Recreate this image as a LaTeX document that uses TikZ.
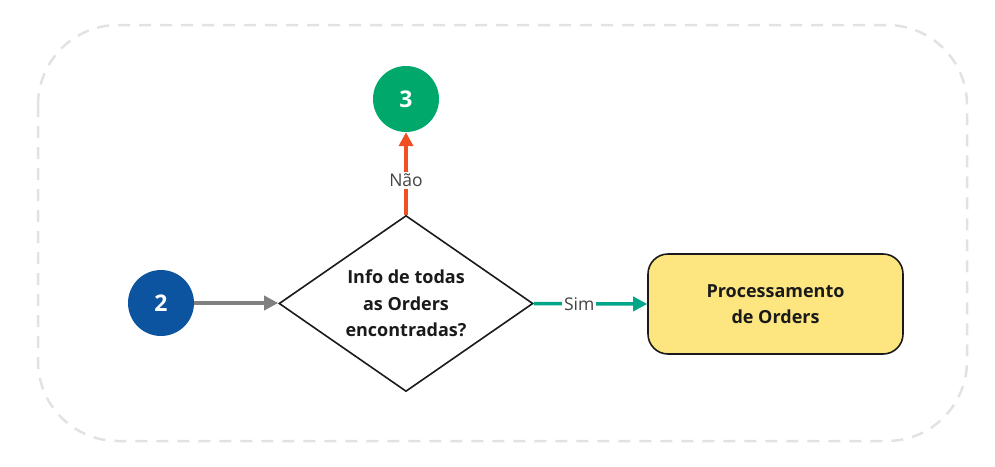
\documentclass[tikz,border=0pt]{standalone}
\usepackage{fontspec}
\setmainfont{Open Sans}
\usetikzlibrary{shapes.geometric,arrows.meta}
\definecolor{cgreen}{RGB}{0,168,107}
\definecolor{cblue}{RGB}{12,84,160}
\definecolor{cyel}{RGB}{253,230,128}
\definecolor{cred}{RGB}{240,78,35}
\definecolor{cteal}{RGB}{0,166,136}
\definecolor{cgray}{RGB}{128,128,128}
\definecolor{cdash}{RGB}{226,226,226}
\definecolor{ctext}{RGB}{26,26,26}
\definecolor{clabel}{RGB}{68,68,68}
\begin{document}
\begin{tikzpicture}[x=1pt,y=-1pt,
  numcircle/.style={circle,minimum size=66pt,inner sep=0pt,text=white,font=\fontsize{23}{26}\selectfont\bfseries},
  decision/.style={diamond,draw=ctext,line width=1.6pt,fill=white,minimum width=254pt,minimum height=176pt,aspect=1.44,inner sep=0pt,align=center,text=ctext,font=\fontsize{18}{26.5}\selectfont\bfseries},
  procbox/.style={rectangle,rounded corners=20pt,draw=ctext,line width=1.6pt,fill=cyel,minimum width=255pt,minimum height=100pt,align=center,text=ctext,font=\fontsize{18}{26.5}\selectfont\bfseries},
  conn/.style={line width=3.5pt,-{Triangle[length=14pt,width=14pt]}},
  lbl/.style={fill=white,inner sep=2pt,text=clabel,font=\fontsize{17.5}{20}\selectfont}
]
\useasboundingbox (0,0) rectangle (995,466);
\draw[cdash,line width=2.5pt,dash pattern=on 12pt off 9pt,rounded corners=80pt] (38,25) rectangle (967,441);
\node[numcircle,fill=cgreen] (n3) at (406,99) {3};
\node[numcircle,fill=cblue] (n2) at (161,303) {2};
\node[decision] (d) at (406,303.5) {Info de todas\\as Orders\\encontradas?};
\node[procbox] (p) at (775.5,304) {Processamento\\de Orders};
\draw[conn,cgray] (n2) -- (n2 -| d.west);
\draw[conn,cred] (d.north) -- node[lbl,pos=0.42] {Não} (n3);
\draw[conn,cteal] (d.east) -- node[lbl,pos=0.4] {Sim} (p.west);
\end{tikzpicture}
\end{document}
